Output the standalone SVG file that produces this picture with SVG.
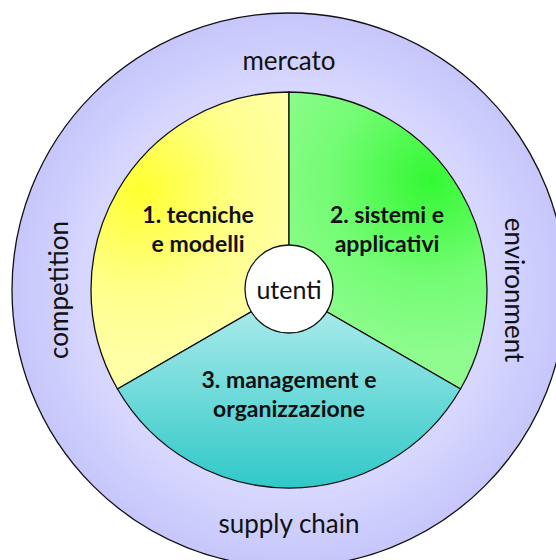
<svg xmlns="http://www.w3.org/2000/svg" width="556" height="560" viewBox="0 0 556 560">
  <defs>
    <radialGradient id="gOuter" cx="289" cy="290" r="277" gradientUnits="userSpaceOnUse">
      <stop offset="0" stop-color="#e6e6ff"/>
      <stop offset="0.75" stop-color="#d6d6ff"/>
      <stop offset="1" stop-color="#c6c6fb"/>
    </radialGradient>
    <radialGradient id="gYellow" cx="140" cy="190" r="170" gradientUnits="userSpaceOnUse">
      <stop offset="0" stop-color="#ffff30"/>
      <stop offset="0.6" stop-color="#ffff8c"/>
      <stop offset="1" stop-color="#ffffa6"/>
    </radialGradient>
    <radialGradient id="gGreen" cx="430" cy="180" r="180" gradientUnits="userSpaceOnUse">
      <stop offset="0" stop-color="#33f833"/>
      <stop offset="0.55" stop-color="#74fc74"/>
      <stop offset="1" stop-color="#90fc90"/>
    </radialGradient>
    <linearGradient id="gCyan" x1="0" y1="310" x2="0" y2="488" gradientUnits="userSpaceOnUse">
      <stop offset="0" stop-color="#a8eaea"/>
      <stop offset="1" stop-color="#30c8c8"/>
    </linearGradient>
  </defs>
  <style>
    .edge { stroke: #111; stroke-width: 1.3; }
    .ring { font-family: "Lato", "Open Sans", sans-serif; font-size: 26px; fill: #111; text-anchor: middle; }
    .sec { font-family: "Lato", "Open Sans", sans-serif; font-size: 23px; font-weight: bold; fill: #111; text-anchor: middle; }
  </style>

  <!-- outer ring: environment -->
  <g id="outer">
    <circle cx="289" cy="290" r="277" fill="url(#gOuter)" class="edge"/>
    <text class="ring" x="289" y="70">mercato</text>
    <text class="ring" x="289" y="533">supply chain</text>
    <text class="ring" transform="translate(68 290) rotate(-90)">competition</text>
    <text class="ring" transform="translate(505 290) rotate(90)">environment</text>
  </g>

  <!-- sector 1 -->
  <g id="sector1">
    <path d="M289 290 L289 92 A198 198 0 0 0 117.5 389 Z" fill="url(#gYellow)" class="edge"/>
    <text class="sec" x="198" y="223">1. tecniche</text>
    <text class="sec" x="198" y="252">e modelli</text>
  </g>

  <!-- sector 2 -->
  <g id="sector2">
    <path d="M289 290 L289 92 A198 198 0 0 1 460.5 389 Z" fill="url(#gGreen)" class="edge"/>
    <text class="sec" x="387" y="223">2. sistemi e</text>
    <text class="sec" x="387" y="252">applicativi</text>
  </g>

  <!-- sector 3 -->
  <g id="sector3">
    <path d="M289 290 L117.5 389 A198 198 0 0 0 460.5 389 Z" fill="url(#gCyan)" class="edge"/>
    <text class="sec" x="289" y="388">3. management e</text>
    <text class="sec" x="289" y="417">organizzazione</text>
  </g>

  <!-- centre: users -->
  <g id="utenti">
    <circle cx="289" cy="289" r="44" fill="#ffffff" class="edge"/>
    <text class="ring" x="289" y="299" style="font-size:25px">utenti</text>
  </g>
</svg>
